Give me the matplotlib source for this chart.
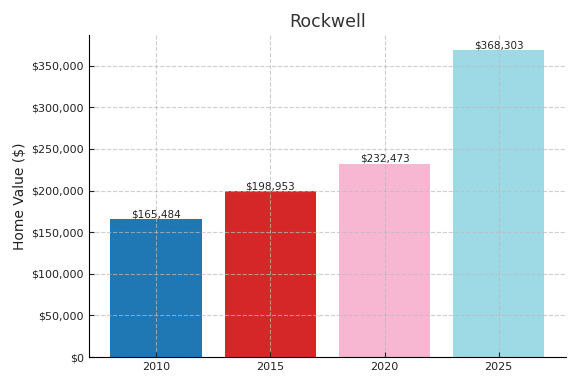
import matplotlib
matplotlib.use("Agg")
import matplotlib.pyplot as plt
from matplotlib.ticker import FuncFormatter

years = ["2010", "2015", "2020", "2025"]
values = [165484, 198953, 232473, 368303]
colors = ["#1f77b4", "#d62728", "#f7b6d2", "#9edae5"]

fig = plt.figure(figsize=(5.8, 3.86), dpi=100)
ax = fig.add_axes([0.153, 0.075, 0.823, 0.834])
bars = ax.bar(years, values, color=colors, width=0.8)
ax.set_ylim(0, max(values) * 1.05)
ax.yaxis.set_major_formatter(FuncFormatter(lambda v, p: f"${v:,.0f}"))
ax.grid(True, linestyle="--", color="#bbbbbb", linewidth=0.8, alpha=0.7)
for s in ["top", "right"]:
    ax.spines[s].set_visible(False)
for b, v in zip(bars, values):
    ax.text(b.get_x() + b.get_width() / 2, v, f"${v:,.0f}", ha="center", va="bottom",
            fontsize=7.5, color="#222222")
ax.set_title("Rockwell", fontsize=12.5, color="#333333")
ax.set_ylabel("Home Value ($)", fontsize=10, color="#222222", labelpad=3)
ax.tick_params(labelsize=8, colors="#222222", direction="in")
fig.savefig("out.png", dpi=100)
